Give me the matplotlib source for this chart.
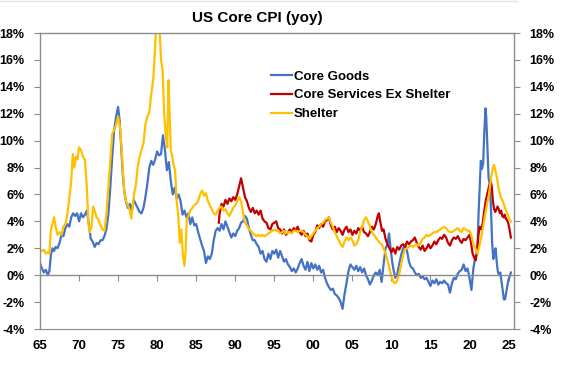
import matplotlib.pyplot as plt
import matplotlib.ticker as mticker
from matplotlib.lines import Line2D

plt.rcParams['font.family'] = ['Liberation Sans', 'DejaVu Sans']

# Core Goods (yoy %)
goods_t = [1965.0, 1965.25, 1965.5, 1965.75, 1966.0, 1966.2, 1966.4, 1966.6, 1966.8,
           1967.0, 1967.25, 1967.5, 1967.75, 1968.0, 1968.25, 1968.5, 1968.75,
           1969.0, 1969.25, 1969.5, 1969.75, 1970.0, 1970.25, 1970.5, 1970.75,
           1971.0, 1971.25, 1971.5, 1971.75, 1972.0, 1972.25, 1972.5, 1972.75,
           1973.0, 1973.25, 1973.5, 1973.75, 1974.0, 1974.25, 1974.5, 1974.75,
           1975.0, 1975.2, 1975.4, 1975.6, 1975.8, 1976.0, 1976.25, 1976.5, 1976.75,
           1977.0, 1977.25, 1977.5, 1977.75, 1978.0, 1978.25, 1978.5, 1978.75,
           1979.0, 1979.25, 1979.5, 1979.75, 1980.0, 1980.25, 1980.5, 1980.75,
           1981.0, 1981.25, 1981.5, 1981.75, 1982.0, 1982.25, 1982.5, 1982.75,
           1983.0, 1983.25, 1983.5, 1983.75, 1984.0, 1984.25, 1984.5, 1984.75,
           1985.0, 1985.25, 1985.5, 1985.75, 1986.0, 1986.25, 1986.5, 1986.75,
           1987.0, 1987.25, 1987.5, 1987.75, 1988.0, 1988.25, 1988.5, 1988.75,
           1989.0, 1989.25, 1989.5, 1989.75, 1990.0, 1990.25, 1990.5, 1990.75,
           1991.0, 1991.25, 1991.5, 1991.75, 1992.0, 1992.25, 1992.5, 1992.75,
           1993.0, 1993.25, 1993.5, 1993.75, 1994.0, 1994.25, 1994.5, 1994.75,
           1995.0, 1995.25, 1995.5, 1995.75, 1996.0, 1996.25, 1996.5, 1996.75,
           1997.0, 1997.25, 1997.5, 1997.75, 1998.0, 1998.25, 1998.5, 1998.75,
           1999.0, 1999.25, 1999.5, 1999.75, 2000.0, 2000.25, 2000.5, 2000.75,
           2001.0, 2001.25, 2001.5, 2001.75, 2002.0, 2002.25, 2002.5, 2002.75,
           2003.0, 2003.25, 2003.5, 2003.75, 2004.0, 2004.25, 2004.5, 2004.75,
           2005.0, 2005.25, 2005.5, 2005.75, 2006.0, 2006.25, 2006.5, 2006.75,
           2007.0, 2007.25, 2007.5, 2007.75, 2008.0, 2008.25, 2008.5, 2008.75,
           2009.0, 2009.25, 2009.5, 2009.7, 2009.9, 2010.1, 2010.3, 2010.5, 2010.75,
           2011.0, 2011.25, 2011.5, 2011.75, 2012.0, 2012.25, 2012.5, 2012.75,
           2013.0, 2013.25, 2013.5, 2013.75, 2014.0, 2014.25, 2014.5, 2014.75,
           2015.0, 2015.25, 2015.5, 2015.75, 2016.0, 2016.25, 2016.5, 2016.75,
           2017.0, 2017.25, 2017.5, 2017.75, 2018.0, 2018.25, 2018.5, 2018.75,
           2019.0, 2019.25, 2019.5, 2019.75, 2020.0, 2020.25, 2020.5, 2020.75,
           2021.0, 2021.15, 2021.3, 2021.45, 2021.6, 2021.75, 2021.9, 2022.05,
           2022.15, 2022.3, 2022.45, 2022.6, 2022.75, 2022.9, 2023.05, 2023.2,
           2023.35, 2023.5, 2023.65, 2023.8, 2023.95, 2024.1, 2024.25, 2024.4,
           2024.55, 2024.7, 2024.85, 2025.0, 2025.15, 2025.3]
goods_v = [0.9, 0.5, 0.2, 0.4, 0.0, 0.3, 1.5, 2.0, 1.8,
           2.1, 2.0, 2.4, 3.0, 2.9, 3.5, 3.8, 3.6,
           4.3, 4.6, 4.4, 4.6, 4.0, 4.6, 4.3, 4.5,
           4.8, 3.8, 2.7, 2.5, 2.1, 2.4, 2.3, 2.6,
           2.6, 2.9, 3.4, 4.5, 6.5, 8.8, 10.8, 11.8,
           12.5, 11.5, 9.5, 7.5, 6.2, 5.5, 5.0, 5.3, 4.8,
           5.6, 5.3, 5.0, 4.7, 4.6, 5.0, 5.8, 6.8,
           8.0, 8.5, 8.2, 8.6, 9.2, 8.9, 9.0, 10.4,
           9.3, 7.8, 8.4, 7.0, 6.0, 6.5, 5.7, 6.0,
           5.5, 4.5, 4.8, 4.3, 4.6, 3.8, 4.3, 3.7,
           3.8, 3.2, 2.7, 2.2, 1.8, 0.9, 1.4, 1.2,
           1.6, 2.6, 3.3, 3.5, 3.3, 3.8, 3.4, 4.0,
           3.6, 3.2, 2.8, 3.1, 2.9, 3.3, 3.5, 3.9,
           4.0, 4.4, 4.2, 3.5, 3.0, 2.6, 2.6, 2.3,
           2.1, 1.6, 1.8, 1.2, 1.0, 1.6, 1.2, 1.8,
           1.6, 1.9, 1.3, 1.8, 1.4, 1.0, 1.2, 0.8,
           0.6, 0.3, 0.5, 0.2, 0.5, 0.9, 1.2, 0.7,
           0.4, 1.0, 0.3, 0.9, 0.5, 0.8, 0.4, 0.7,
           0.2, 0.4, -0.2, -0.6, -0.9, -1.1, -1.0, -1.4,
           -1.5, -1.7, -2.0, -2.5, -1.4, -0.6, 0.3, 0.8,
           0.6, 0.4, 0.7, 0.3, 0.6, 0.2, 0.5, 0.0,
           -0.3, -0.7, -0.4, 0.0, 0.2, 0.0, 0.4, -0.5,
           0.8, 2.0, 2.3, 3.1, 2.0, 1.0, 0.3, -0.2, 0.1,
           0.8, 1.5, 2.0, 2.2, 1.8, 1.0, 0.6, 0.5,
           0.2, 0.0, 0.1, -0.2, -0.1, -0.3, -0.2, -0.5,
           -0.8, -0.4, -0.6, -0.3, -0.7, -0.5, -0.6, -0.4,
           -0.6, -0.7, -1.3, -0.6, -0.2, -0.3, 0.1, 0.3,
           0.4, 0.8, 0.3, 0.5, -0.2, -1.1, 0.5, 1.4,
           1.6, 4.4, 6.5, 8.5, 7.9, 8.3, 10.7, 12.4,
           11.7, 9.5, 7.2, 6.8, 5.0, 2.4, 1.2, 1.8,
           2.0, 0.9, 0.2, 0.0, 0.2, -0.5, -1.1, -1.8,
           -1.8, -1.3, -0.8, -0.3, -0.1, 0.2]

# Core Services Ex Shelter (yoy %)
services_t = [1987.9, 1988.0, 1988.25, 1988.5, 1988.75, 1989.0, 1989.25, 1989.5, 1989.75,
              1990.0, 1990.25, 1990.5, 1990.75, 1991.0, 1991.25, 1991.5, 1991.75,
              1992.0, 1992.25, 1992.5, 1992.75, 1993.0, 1993.25, 1993.5, 1993.75,
              1994.0, 1994.25, 1994.5, 1994.75, 1995.0, 1995.25, 1995.5, 1995.75,
              1996.0, 1996.25, 1996.5, 1996.75, 1997.0, 1997.25, 1997.5, 1997.75,
              1998.0, 1998.25, 1998.5, 1998.75, 1999.0, 1999.25, 1999.5, 1999.75,
              2000.0, 2000.25, 2000.5, 2000.75, 2001.0, 2001.25, 2001.5, 2001.75,
              2002.0, 2002.25, 2002.5, 2002.75, 2003.0, 2003.25, 2003.5, 2003.75,
              2004.0, 2004.25, 2004.5, 2004.75, 2005.0, 2005.25, 2005.5, 2005.75,
              2006.0, 2006.25, 2006.5, 2006.75, 2007.0, 2007.25, 2007.5, 2007.75,
              2008.0, 2008.25, 2008.4, 2008.6, 2008.8, 2009.0, 2009.25, 2009.5, 2009.75,
              2010.0, 2010.25, 2010.5, 2010.75, 2011.0, 2011.25, 2011.5, 2011.75,
              2012.0, 2012.25, 2012.5, 2012.75, 2013.0, 2013.25, 2013.5, 2013.75,
              2014.0, 2014.25, 2014.5, 2014.75, 2015.0, 2015.25, 2015.5, 2015.75,
              2016.0, 2016.25, 2016.5, 2016.75, 2017.0, 2017.25, 2017.5, 2017.75,
              2018.0, 2018.25, 2018.5, 2018.75, 2019.0, 2019.25, 2019.5, 2019.75,
              2020.0, 2020.2, 2020.4, 2020.6, 2020.8, 2021.0, 2021.15, 2021.3,
              2021.5, 2021.7, 2021.9, 2022.1, 2022.3, 2022.5, 2022.7, 2022.85,
              2023.0, 2023.15, 2023.3, 2023.45, 2023.6, 2023.75, 2023.9, 2024.05,
              2024.2, 2024.35, 2024.5, 2024.65, 2024.8, 2024.95, 2025.1, 2025.3]
services_v = [3.9, 4.6, 5.3, 5.1, 5.6, 5.3, 5.7, 5.5, 5.8,
              5.6, 6.0, 6.6, 7.2, 6.5, 5.8, 5.5, 5.0,
              4.7, 5.0, 4.6, 4.8, 4.5, 4.8, 4.2, 4.0,
              3.9, 3.5, 3.4, 3.8, 3.9, 4.0, 3.5, 3.4,
              3.1, 3.4, 3.0, 3.2, 3.4, 3.2, 3.5, 3.3,
              3.6, 3.2, 3.0, 3.3, 2.9, 3.1, 2.6, 2.5,
              3.0, 3.2, 3.7, 3.5, 3.8, 3.6, 4.0, 4.1,
              4.3, 3.7, 3.4, 3.6, 3.2, 3.5, 3.3, 3.0,
              3.4, 3.6, 3.2, 3.4, 3.0, 3.3, 3.1, 3.5,
              3.3, 3.6, 3.2, 3.1, 2.9, 3.2, 3.6, 3.4,
              3.8, 4.4, 4.6, 3.9, 3.3, 3.4, 2.7, 2.3, 2.0,
              1.7, 2.0, 1.6, 2.1, 1.9, 2.2, 2.3, 2.1,
              2.5, 2.3, 2.5, 2.6, 2.8, 2.4, 2.1, 1.9,
              2.2, 1.8, 2.0, 2.3, 2.0, 2.2, 2.5, 2.3,
              2.6, 2.8, 2.7, 3.0, 2.8, 2.4, 2.2, 2.6,
              2.8, 2.7, 2.9, 2.6, 2.4, 2.7, 2.6, 2.8,
              3.0, 2.4, 1.6, 1.3, 1.1, 2.0, 3.0, 3.6,
              3.4, 3.9, 4.8, 5.6, 6.1, 6.6, 7.0, 6.6,
              5.5, 4.9, 4.7, 4.9, 5.1, 4.9, 4.6, 4.8,
              4.4, 4.3, 4.5, 4.2, 4.1, 3.9, 3.5, 2.8]

# Shelter (yoy %)
shelter_t = [1965.0, 1965.25, 1965.5, 1965.75, 1966.0, 1966.2, 1966.4, 1966.6, 1966.8,
             1967.0, 1967.25, 1967.5, 1967.75, 1968.0, 1968.25, 1968.5, 1968.75,
             1969.0, 1969.2, 1969.4, 1969.6, 1969.8, 1970.0, 1970.25, 1970.5, 1970.75,
             1971.0, 1971.2, 1971.4, 1971.6, 1971.8, 1972.0, 1972.25, 1972.5, 1972.75,
             1973.0, 1973.25, 1973.5, 1973.75, 1974.0, 1974.25, 1974.5, 1974.75,
             1975.0, 1975.25, 1975.5, 1975.75, 1976.0, 1976.25, 1976.5, 1976.7, 1976.9,
             1977.1, 1977.3, 1977.5, 1977.75, 1978.0, 1978.25, 1978.5, 1978.75,
             1979.0, 1979.25, 1979.5, 1979.7, 1979.9, 1980.1, 1980.3, 1980.5, 1980.7, 1980.9,
             1981.1, 1981.3, 1981.45, 1981.6, 1981.75, 1981.9, 1982.1, 1982.3, 1982.5,
             1982.7, 1982.9, 1983.1, 1983.3, 1983.5, 1983.65, 1983.8, 1984.0, 1984.25,
             1984.5, 1984.75, 1985.0, 1985.25, 1985.5, 1985.75, 1986.0, 1986.25, 1986.5,
             1986.75, 1987.0, 1987.25, 1987.5, 1987.75, 1988.0, 1988.25, 1988.5, 1988.75,
             1989.0, 1989.25, 1989.5, 1989.75, 1990.0, 1990.25, 1990.5, 1990.75,
             1991.0, 1991.25, 1991.5, 1991.75, 1992.0, 1992.25, 1992.5, 1992.75,
             1993.0, 1993.25, 1993.5, 1993.75, 1994.0, 1994.25, 1994.5, 1994.75,
             1995.0, 1995.25, 1995.5, 1995.75, 1996.0, 1996.25, 1996.5, 1996.75,
             1997.0, 1997.25, 1997.5, 1997.75, 1998.0, 1998.25, 1998.5, 1998.75,
             1999.0, 1999.25, 1999.5, 1999.75, 2000.0, 2000.25, 2000.5, 2000.75,
             2001.0, 2001.25, 2001.5, 2001.75, 2002.0, 2002.25, 2002.5, 2002.75,
             2003.0, 2003.25, 2003.5, 2003.75, 2004.0, 2004.25, 2004.5, 2004.75,
             2005.0, 2005.25, 2005.5, 2005.75, 2006.0, 2006.25, 2006.5, 2006.75,
             2007.0, 2007.25, 2007.5, 2007.75, 2008.0, 2008.25, 2008.5, 2008.75,
             2009.0, 2009.25, 2009.5, 2009.75, 2010.0, 2010.25, 2010.5, 2010.75,
             2011.0, 2011.25, 2011.5, 2011.75, 2012.0, 2012.25, 2012.5, 2012.75,
             2013.0, 2013.25, 2013.5, 2013.75, 2014.0, 2014.25, 2014.5, 2014.75,
             2015.0, 2015.25, 2015.5, 2015.75, 2016.0, 2016.25, 2016.5, 2016.75,
             2017.0, 2017.25, 2017.5, 2017.75, 2018.0, 2018.25, 2018.5, 2018.75,
             2019.0, 2019.25, 2019.5, 2019.75, 2020.0, 2020.25, 2020.5, 2020.75,
             2021.0, 2021.25, 2021.5, 2021.75, 2022.0, 2022.25, 2022.5, 2022.75,
             2023.0, 2023.15, 2023.3, 2023.5, 2023.75, 2024.0, 2024.25, 2024.5,
             2024.75, 2025.0, 2025.3]
shelter_v = [1.9, 1.8, 1.9, 1.6, 1.7, 1.6, 3.4, 3.8, 4.3,
             3.6, 3.0, 3.2, 3.0, 3.6, 3.8, 4.5, 5.7,
             7.0, 9.0, 8.0, 8.8, 8.6, 9.5, 9.3, 8.8, 8.6,
             6.5, 3.8, 3.2, 3.6, 5.1, 4.8, 4.3, 4.1, 3.7,
             3.4, 3.3, 4.5, 6.5, 8.5, 10.5, 10.8, 11.2,
             11.8, 11.0, 9.0, 6.5, 5.5, 5.2, 4.8, 4.2, 5.3,
             6.2, 6.8, 8.0, 8.8, 9.3, 9.8, 11.2, 11.8,
             12.1, 13.5, 14.5, 16.5, 18.8, 19.5, 18.5, 16.0, 15.2, 12.0,
             10.5, 9.5, 14.5, 12.0, 9.2, 9.0, 8.2, 7.8, 5.5,
             4.5, 2.4, 3.4, 1.5, 0.7, 1.8, 4.2, 4.4, 4.8,
             5.0, 5.2, 5.3, 5.5, 6.0, 6.3, 5.9, 6.1, 5.5,
             5.2, 4.9, 4.6, 4.5, 4.8, 5.0, 5.1, 4.8, 4.9,
             4.6, 4.4, 4.7, 5.0, 5.2, 5.5, 5.8, 5.5,
             4.6, 3.9, 3.7, 3.4, 3.3, 3.1, 3.0, 2.9,
             3.0, 2.9, 3.0, 2.9, 3.0, 3.1, 3.2, 3.3,
             3.4, 3.3, 3.3, 3.1, 3.2, 3.3, 3.1, 3.2,
             3.2, 3.1, 3.3, 3.3, 3.2, 3.3, 3.3, 3.2,
             3.0, 2.9, 2.7, 2.9, 3.1, 3.3, 3.5, 3.6,
             3.8, 3.9, 4.1, 4.2, 4.3, 3.9, 3.6, 3.2,
             2.9, 2.6, 2.3, 2.1, 2.5, 2.8, 2.6, 2.8,
             2.6, 2.2, 2.3, 2.6, 3.2, 3.6, 4.1, 4.3,
             4.0, 3.6, 3.2, 3.0, 2.8, 2.6, 2.4, 2.3,
             2.0, 1.6, 1.1, 0.5, -0.1, -0.5, -0.6, -0.4,
             0.1, 0.8, 1.5, 1.9, 2.0, 2.1, 2.2, 2.1,
             2.2, 2.3, 2.2, 2.4, 2.7, 2.8, 3.0, 2.9,
             3.0, 3.1, 3.2, 3.2, 3.3, 3.4, 3.5, 3.6,
             3.5, 3.3, 3.2, 3.2, 3.3, 3.4, 3.5, 3.3,
             3.2, 3.5, 3.4, 3.3, 3.3, 2.9, 2.3, 2.0,
             1.6, 2.1, 2.8, 3.6, 4.5, 5.3, 6.0, 7.2,
             8.0, 8.2, 7.8, 7.3, 6.4, 5.8, 5.5, 5.1,
             4.7, 4.3, 4.0]

yticks = list(range(-4, 19, 2))
xticks = list(range(1965, 2026, 5))
xlabels = ['65', '70', '75', '80', '85', '90', '95', '00', '05', '10', '15', '20', '25']

grey = '#8c8c8c'
fs = 9

fig = plt.figure(figsize=(5.62, 3.70), dpi=100)
ax = fig.add_axes([40 / 562, 41 / 370, 474 / 562, 296 / 370])

ax.plot(goods_t, goods_v, color='#4472C4', linewidth=1.6, label='Core Goods')
ax.plot(services_t, services_v, color='#C00000', linewidth=1.6, label='Core Services Ex Shelter')
ax.plot(shelter_t, shelter_v, color='#FFC000', linewidth=1.6, label='Shelter')

ax.set_xlim(1965, 2025.7)
ax.set_ylim(-4, 18)

# x axis line and ticks sit on the zero line
ax.spines['bottom'].set_position(('data', 0))
for s in ['bottom', 'top', 'left', 'right']:
    ax.spines[s].set_color(grey)
    ax.spines[s].set_linewidth(1.0)
ax.set_xticks(xticks)
ax.tick_params(axis='x', direction='out', length=4, color=grey, labelbottom=False)

sec = ax.secondary_xaxis('bottom')
sec.set_xticks(xticks)
sec.set_xticklabels(xlabels, fontsize=9.5, fontweight='bold')
sec.tick_params(length=0, pad=8)
sec.spines['bottom'].set_color(grey)

ax.set_yticks(yticks)
fmt = mticker.FuncFormatter(lambda v, p: '%d%%' % v)
ax.yaxis.set_major_formatter(fmt)
ax.tick_params(axis='y', which='both', direction='out', length=4, color=grey,
               left=True, right=True, labelleft=True, labelright=True, pad=7)
for lab in ax.get_yticklabels():
    lab.set_fontsize(fs)
    lab.set_fontweight('bold')

leg = ax.legend(loc='upper left', bbox_to_anchor=(231 / 474, 0.874), frameon=False,
                fontsize=9.5, handlelength=1.6, handletextpad=0.15,
                labelspacing=0.5, borderaxespad=0, borderpad=0)
for t in leg.get_texts():
    t.set_fontweight('bold')

fig.text(257.5 / 562, 1 - 18 / 370, 'US Core CPI (yoy)', ha='center', va='center',
         fontsize=11, fontweight='bold')
fig.add_artist(Line2D([0, 0.92], [0.996, 0.996], color='#e4e4e4', linewidth=1.0))

fig.savefig('out.png', dpi=100)
